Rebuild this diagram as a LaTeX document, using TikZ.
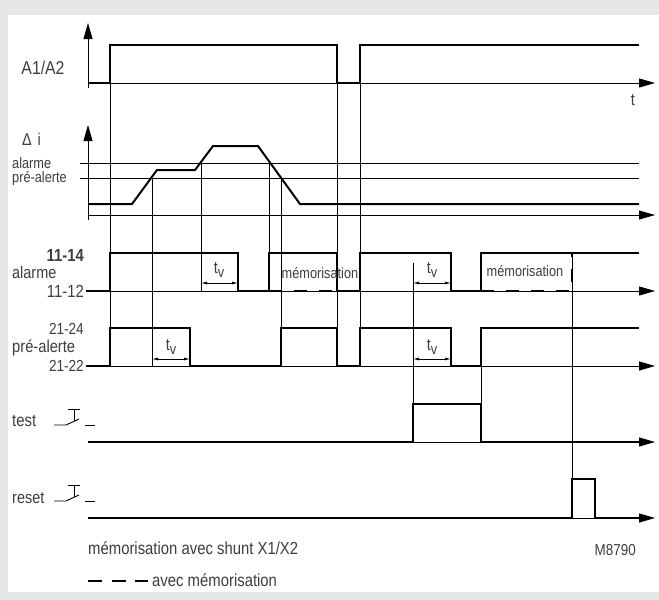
\documentclass[tikz,border=0pt]{standalone}
\usepackage{fontspec}
\setmainfont{Liberation Sans}[FakeStretch=0.85]
\usetikzlibrary{arrows.meta}
\definecolor{framegray}{RGB}{230,231,233}
\definecolor{textgray}{RGB}{62,62,62}

\begin{document}
\begin{tikzpicture}[x=1pt,y=-1pt]
% --- styles -----------------------------------------------------
\tikzstyle{sig}  =[line width=2pt]
\tikzstyle{ref}  =[line width=0.8pt]
\tikzstyle{axis} =[ref,-{Triangle[length=16pt,width=9pt]}]
\tikzstyle{mem}  =[line width=2pt,dash pattern=on 13pt off 12pt]
\tikzstyle{tvarr}=[ref,{Latex[length=6pt,width=3pt]}-{Latex[length=6pt,width=3pt]}]
\tikzstyle{lbl}  =[text=textgray,inner sep=0pt,font=\fontsize{17.5}{20}\selectfont]
\tikzstyle{small}=[lbl,font=\fontsize{15}{18}\selectfont]
\tikzstyle{swt}  =[line width=0.9pt]

% --- frame ------------------------------------------------------
\fill[framegray] (0,0) rectangle (659,600);
\fill[white] (8,15) rectangle (659,592);
\useasboundingbox (0,0) rectangle (659,600);

% --- A1/A2 ------------------------------------------------------
\draw[axis] (88,88) -- (88,23);
\draw[axis] (88,83) -- (655,83);
\draw[sig] (88,83) -- (110,83) -- (110,45) -- (337,45) -- (337,83) -- (360,83) -- (360,45) -- (639,45);
\node[lbl,font=\fontsize{18.6}{21}\selectfont] (a1a2) at (43,68) {A1/A2};
\node[lbl,font=\fontsize{17}{20}\selectfont] (tlab) at (633,100) {t};

% --- delta i ----------------------------------------------------
\draw[axis] (88,220) -- (88,125);
\draw[axis] (88,215) -- (655,215);
\draw[ref] (80,163) -- (639,163);   % alarme threshold
\draw[ref] (80,178) -- (639,178);   % pre-alerte threshold
\draw[sig] (88,204) -- (132,204) -- (157,170) -- (195,170) -- (213,146) -- (258,146) -- (300,204) -- (639,204);
\node[lbl,anchor=west,font=\fontsize{17}{20}\selectfont] (di) at (22,139) {Δ\,\,i};
\node[small,anchor=west] (thal) at (12,163) {alarme};
\node[small,anchor=west] (thpr) at (12,179) {pré-alerte};

% --- alarme 11-14 / 11-12 ---------------------------------------
\draw[axis] (86,291) -- (655,291);
\draw[sig] (86,291) -- (110,291) -- (110,253) -- (238,253) -- (238,291) -- (269,291) -- (269,253) -- (337,253) -- (337,291)
  -- (360,291) -- (360,253) -- (451,253) -- (451,291) -- (481,291) -- (481,253) -- (639,253);
\draw[mem] (269,291) -- (337,291);
\draw[mem] (481,291) -- (572,291) -- (572,253);
\node[lbl,anchor=east,font=\bfseries\fontsize{17.5}{20}\selectfont] (c1114) at (84,255) {11-14};
\node[lbl,anchor=west,font=\fontsize{17}{20}\selectfont] (calar) at (12,272) {alarme};
\node[lbl,anchor=east,font=\fontsize{17.5}{20}\selectfont] (c1112) at (84,291) {11-12};
\node[small] (mem1) at (320,273) {mémorisation};
\node[small] (mem2) at (525,271) {mémorisation};

% --- pre-alerte 21-24 / 21-22 -----------------------------------
\draw[axis] (86,366) -- (655,366);
\draw[sig] (86,366) -- (110,366) -- (110,328) -- (190,328) -- (190,366) -- (281,366) -- (281,328) -- (337,328) -- (337,366)
  -- (360,366) -- (360,328) -- (451,328) -- (451,366) -- (481,366) -- (481,328) -- (639,328);
\node[lbl,anchor=east,font=\fontsize{16}{19}\selectfont] (c2124) at (84,329) {21-24};
\node[lbl,anchor=west,font=\fontsize{17.3}{20}\selectfont] (cpre) at (12,348) {pré-alerte};
\node[lbl,anchor=east,font=\fontsize{16}{19}\selectfont] (c2122) at (84,366) {21-22};

% --- test -------------------------------------------------------
\draw[axis] (88,442) -- (655,442);
\draw[sig] (88,442) -- (413,442) -- (413,404) -- (481,404) -- (481,442) -- (639,442);
\node[lbl,anchor=west] (test) at (12,421) {test};

% --- reset ------------------------------------------------------
\draw[axis] (88,518) -- (655,518);
\draw[sig] (88,518) -- (572,518) -- (572,479) -- (595,479) -- (595,518) -- (639,518);
\node[lbl,anchor=west,font=\fontsize{17}{20}\selectfont] (reset) at (12,498) {reset};

% push-button symbols
\foreach \y in {425,501}{
  \draw[swt] (54,\y) -- (66,\y) -- (79,\y-6);
  \draw[swt] (68,\y-16) -- (80,\y-16);
  \draw[swt] (74,\y-16) -- (74,\y-4);
  \draw[swt] (85,\y) -- (95,\y);
}

% --- thin time marks --------------------------------------------
\foreach \x/\ya/\yb in {110/45/366, 152/178/366, 201/163/291, 269/163/291, 281/178/366,
                        337/45/366, 360/45/366, 413/263/442, 481/328/442, 572/253/518}
  \draw[ref] (\x,\ya) -- (\x,\yb);

% --- delay arrows tv --------------------------------------------
\draw[tvarr] (201,283) -- (238,283);
\draw[tvarr] (413,283) -- (451,283);
\draw[tvarr] (152,359) -- (190,359);
\draw[tvarr] (413,359) -- (451,359);
\foreach \x/\y/\n in {219/270/tv1, 432/270/tv2, 171/347/tv3, 432/347/tv4}
  \node[lbl,font=\fontsize{17}{20}\selectfont] (\n) at (\x,\y) {t\raisebox{-0.5ex}{\fontsize{15}{17}\selectfont v}};

% --- legend -----------------------------------------------------
\node[lbl,anchor=west] (shunt) at (88,548) {mémorisation avec shunt X1/X2};
\node[lbl,anchor=east,font=\fontsize{15.8}{18}\selectfont] (ref) at (636,550) {M8790};
\draw[line width=2pt,dash pattern=on 14pt off 9.5pt] (88,581) -- (148,581);
\node[lbl,anchor=west] (avec) at (152,580) {avec mémorisation};

\end{tikzpicture}
\end{document}
